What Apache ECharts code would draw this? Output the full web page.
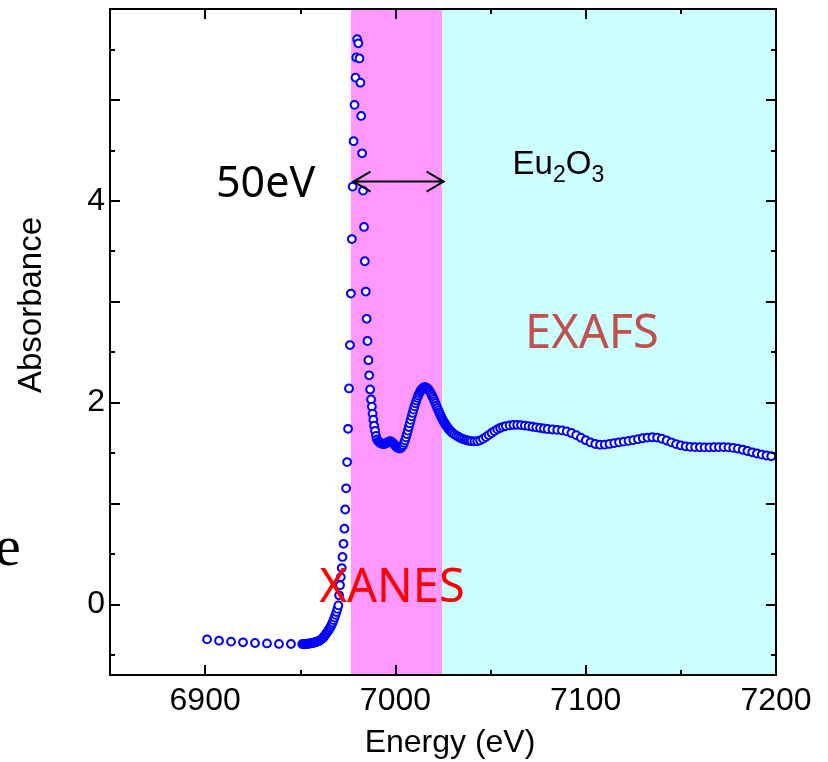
<!DOCTYPE html>
<html>
<head>
<meta charset="utf-8">
<script src="https://cdn.jsdelivr.net/npm/echarts@6/dist/echarts.min.js"></script>
<style>
html, body { margin: 0; padding: 0; background: #fff; }
#chart { width: 828px; height: 762px; }
</style>
</head>
<body>
<div id="chart"></div>
<script>
// photon energy (eV)
const energy = [
  6901.0, 6907.3, 6913.6, 6919.9, 6926.2, 6932.5, 6938.8, 6945.1,
  6951.0, 6951.5, 6952.0, 6952.5, 6953.0, 6953.5, 6954.0, 6954.5, 6955.0, 6955.5,
  6956.0, 6956.5, 6957.0, 6957.5, 6958.0, 6958.5, 6959.0, 6959.5, 6960.0, 6960.5,
  6961.0, 6961.5, 6962.0, 6962.5, 6963.0, 6963.5, 6964.0, 6964.5, 6965.0, 6965.5,
  6966.0, 6966.5, 6967.0, 6967.5, 6968.0, 6968.5, 6969.0, 6969.5,
  6970.0, 6970.4, 6970.9, 6971.3, 6971.8, 6972.2, 6972.7, 6973.2, 6973.6, 6974.1,
  6974.6, 6975.1, 6975.6, 6976.1, 6976.6, 6977.1, 6977.5, 6978.0, 6978.5, 6979.0,
  6979.4, 6979.9, 6980.5, 6981.1, 6981.6, 6982.0, 6982.5, 6983.0, 6983.5, 6983.9,
  6984.4, 6984.9, 6985.3, 6985.8, 6986.2, 6986.7, 6987.2, 6987.6, 6988.0, 6988.4,
  6988.8, 6989.3, 6989.8, 6990.3,
  6991.0, 6991.5, 6992.0, 6992.5, 6993.0, 6993.5, 6994.0, 6994.5, 6995.0, 6995.5,
  6996.0, 6996.5, 6997.0, 6997.5, 6998.0, 6998.5, 6999.0, 6999.5, 7000.0, 7000.5,
  7001.0, 7001.5, 7002.0, 7002.5, 7003.0, 7003.5, 7004.0, 7004.5, 7005.0, 7005.5,
  7006.0, 7006.5, 7007.0, 7007.5, 7008.0, 7008.5, 7009.0, 7009.5, 7010.0, 7010.5,
  7011.0, 7011.5, 7012.0, 7012.5, 7013.0, 7013.5, 7014.0, 7014.5, 7015.0, 7015.5,
  7016.0, 7016.5, 7017.0, 7017.5, 7018.0, 7018.5, 7019.0, 7019.5, 7020.0, 7020.5,
  7021.0, 7021.5, 7022.0, 7022.5, 7023.0, 7023.5, 7024.0, 7024.5, 7025.0, 7025.5,
  7026.0, 7026.5, 7027.0, 7027.5, 7028.0, 7028.5, 7029.0, 7029.5, 7030.0,
  7031, 7032, 7033, 7034, 7035, 7036, 7037, 7038, 7039, 7040,
  7041.5, 7043, 7044.5, 7046, 7047.5, 7049, 7050.5, 7052, 7053.5, 7055, 7056.5, 7058,
  7060, 7062, 7064, 7066, 7068, 7070, 7072, 7074, 7076, 7078, 7080,
  7082.5, 7085, 7087.5, 7090, 7092.5, 7095, 7097.5, 7100, 7102.5, 7105,
  7107.5, 7110, 7112.5, 7115, 7117.5, 7120, 7122.5, 7125, 7127.5, 7130,
  7132.5, 7135, 7137.5, 7140, 7142.5, 7145, 7147.5, 7150, 7152.5, 7155,
  7157.5, 7160, 7162.5, 7165, 7167.5, 7170, 7172.5, 7175, 7177.5, 7180,
  7182.5, 7185, 7187.5, 7190, 7192.5, 7195, 7197.5
];
// absorbance at each energy
const absorbance = [
  -0.347, -0.360, -0.369, -0.376, -0.383, -0.387, -0.392, -0.393,
  -0.394, -0.394, -0.393, -0.393, -0.392, -0.391, -0.390, -0.389, -0.388, -0.386,
  -0.384, -0.382, -0.380, -0.378, -0.375, -0.372, -0.369, -0.365, -0.360, -0.354,
  -0.347, -0.339, -0.330, -0.318, -0.305, -0.292, -0.279, -0.265, -0.251, -0.236,
  -0.219, -0.200, -0.180, -0.156, -0.131, -0.104, -0.076, -0.045,
  -0.010, 0.09, 0.19, 0.27, 0.36, 0.47, 0.60, 0.75, 0.94, 1.15,
  1.41, 1.74, 2.14, 2.57, 3.08, 3.62, 4.14, 4.59, 4.95, 5.22,
  5.42, 5.60, 5.56, 5.41, 5.17, 4.84, 4.47, 4.10, 3.74, 3.40,
  3.10, 2.83, 2.61, 2.42, 2.27, 2.13, 2.03, 1.96, 1.89, 1.83,
  1.77, 1.72, 1.67, 1.635,
  1.615, 1.607, 1.600, 1.595, 1.592, 1.590, 1.590, 1.592, 1.596, 1.601,
  1.607, 1.612, 1.615, 1.614, 1.610, 1.603, 1.594, 1.583, 1.572, 1.562,
  1.554, 1.548, 1.545, 1.546, 1.552, 1.563, 1.579, 1.600, 1.625, 1.655,
  1.688, 1.722, 1.757, 1.793, 1.828, 1.863, 1.897, 1.930, 1.962, 1.992,
  2.020, 2.046, 2.070, 2.091, 2.109, 2.124, 2.136, 2.145, 2.150, 2.152,
  2.150, 2.145, 2.137, 2.126, 2.112, 2.096, 2.078, 2.058, 2.037, 2.015,
  1.993, 1.970, 1.947, 1.925, 1.903, 1.882, 1.862, 1.843, 1.825, 1.808,
  1.792, 1.777, 1.763, 1.750, 1.738, 1.727, 1.717, 1.707, 1.698,
  1.685, 1.672, 1.661, 1.651, 1.642, 1.635, 1.629, 1.624, 1.620, 1.618,
  1.616, 1.617, 1.625, 1.640, 1.658, 1.678, 1.698, 1.717, 1.734, 1.748, 1.759, 1.767,
  1.774, 1.778, 1.779, 1.777, 1.772, 1.766, 1.760, 1.754, 1.748, 1.743, 1.738,
  1.733, 1.729, 1.724, 1.714, 1.698, 1.677, 1.652, 1.627, 1.605, 1.589,
  1.582, 1.583, 1.590, 1.598, 1.606, 1.613, 1.620, 1.628, 1.637, 1.646,
  1.653, 1.656, 1.653, 1.641, 1.624, 1.605, 1.588, 1.575, 1.566, 1.561,
  1.558, 1.557, 1.556, 1.556, 1.557, 1.558, 1.558, 1.556, 1.551, 1.543,
  1.532, 1.520, 1.507, 1.495, 1.484, 1.475, 1.468
];

// shaded regions (eV): XANES then EXAFS
const bandStarts = [6976.6, 7024.6];
const bandEnds = [7024.6, 7200];
const bandColors = ['#FF99FF', '#CCFFFF'];

// "50eV" double arrow
const arrowFrom = 6978;
const arrowTo = 7025.3;
const arrowLevel = 4.19;

const xRange = [6850, 7200];
const yRange = [-0.7, 5.9];
const xMajor = [6900, 7000, 7100, 7200];
const xMinor = [6950, 7050, 7150];
const yMajor = [0, 1, 2, 3, 4, 5];
const yMinor = [-0.5, 0.5, 1.5, 2.5, 3.5, 4.5, 5.5];
const yTickLabels = [0, 2, 4];

const labelFont = 'Liberation Sans, Arial, sans-serif';
const noteFont = 'Noto Sans, sans-serif';

function tickAxis(dim, position, ticks, len, labels) {
  const range = dim === 'x' ? xRange : yRange;
  const ax = {
    type: 'value',
    position: position,
    min: range[0],
    max: range[1],
    z: 10,
    axisLine: { show: true, onZero: false, lineStyle: { color: '#000', width: 2 } },
    axisTick: { show: true, inside: true, length: len, customValues: ticks,
      lineStyle: { color: '#000', width: 2 } },
    axisLabel: { show: false },
    splitLine: { show: false }
  };
  if (labels) {
    ax.axisLabel = {
      show: true,
      customValues: labels,
      formatter: v => String(v),
      color: '#000',
      fontSize: 32,
      fontFamily: labelFont,
      margin: dim === 'x' ? 10 : 5
    };
  }
  return ax;
}

const xAxes = [
  tickAxis('x', 'bottom', xMajor, 10, xMajor),
  tickAxis('x', 'bottom', xMinor, 5),
  tickAxis('x', 'top', xMajor, 10),
  tickAxis('x', 'top', xMinor, 5)
];
xAxes[0].name = 'Energy (eV)';
xAxes[0].nameLocation = 'middle';
xAxes[0].nameGap = 52;
xAxes[0].nameTextStyle = { color: '#000', fontSize: 32, fontFamily: labelFont, padding: [0, 0, 0, 14] };

const yAxes = [
  tickAxis('y', 'left', yMajor, 10, yTickLabels),
  tickAxis('y', 'left', yMinor, 5),
  tickAxis('y', 'right', yMajor, 10),
  tickAxis('y', 'right', yMinor, 5)
];

const points = energy.map((e, i) => [e, absorbance[i]]);
const bands = bandStarts.map((s, i) => [s, bandEnds[i]]);

const chart = echarts.init(document.getElementById('chart'), null, { renderer: 'canvas' });

chart.setOption({
  animation: false,
  backgroundColor: '#fff',
  grid: { left: 110, top: 9, width: 666, height: 666, containLabel: false, outerBoundsMode: 'none' },
  xAxis: xAxes,
  yAxis: yAxes,
  series: [
    {
      // background regions
      type: 'custom',
      z: 1,
      silent: true,
      data: bands,
      renderItem: function (params, api) {
        const p0 = api.coord([api.value(0), yRange[1]]);
        const p1 = api.coord([api.value(1), yRange[0]]);
        return {
          type: 'rect',
          shape: { x: p0[0], y: p0[1], width: p1[0] - p0[0], height: p1[1] - p0[1] },
          style: { fill: bandColors[params.dataIndex] }
        };
      }
    },
    {
      type: 'scatter',
      z: 3,
      data: points,
      symbol: 'circle',
      symbolSize: 7.8,
      itemStyle: { color: '#fff', borderColor: '#0000FF', borderWidth: 2, opacity: 1 }
    },
    {
      // double-headed arrow
      type: 'custom',
      z: 4,
      silent: true,
      data: [[arrowFrom, arrowTo, arrowLevel]],
      renderItem: function (params, api) {
        const a = api.coord([api.value(0), api.value(2)]);
        const b = api.coord([api.value(1), api.value(2)]);
        const w = 17, h = 10;
        const st = { stroke: '#000', lineWidth: 2, fill: null };
        return {
          type: 'group',
          children: [
            { type: 'line', shape: { x1: a[0], y1: a[1], x2: b[0], y2: b[1] }, style: st },
            { type: 'polyline', shape: { points: [[a[0] + w, a[1] - h], [a[0], a[1]], [a[0] + w, a[1] + h]] }, style: st },
            { type: 'polyline', shape: { points: [[b[0] - w, b[1] - h], [b[0], b[1]], [b[0] - w, b[1] + h]] }, style: st }
          ]
        };
      }
    }
  ],
  graphic: [
    { type: 'text', x: 31.6, y: 305, rotation: Math.PI / 2, z: 20,
      style: { text: 'Absorbance', fontSize: 33, fontFamily: labelFont, fill: '#000', align: 'center', verticalAlign: 'middle' } },
    { type: 'text', x: -5, y: 550, z: 20,
      style: { text: 'e', fontSize: 58, fontFamily: 'Liberation Serif, serif', fill: '#000', align: 'left', verticalAlign: 'middle' } },
    { type: 'text', x: 216, y: 184.3, z: 20,
      style: { text: '50eV', fontSize: 43, fontFamily: noteFont, fill: '#000', align: 'left', verticalAlign: 'middle' } },
    { type: 'text', x: 512.5, y: 164.6, z: 20,
      style: { text: 'Eu', fontSize: 33, fontFamily: labelFont, fill: '#000', align: 'left', verticalAlign: 'middle' } },
    { type: 'text', x: 552.9, y: 175.3, z: 20,
      style: { text: '2', fontSize: 23, fontFamily: labelFont, fill: '#000', align: 'left', verticalAlign: 'middle' } },
    { type: 'text', x: 565.7, y: 164.6, z: 20,
      style: { text: 'O', fontSize: 33, fontFamily: labelFont, fill: '#000', align: 'left', verticalAlign: 'middle' } },
    { type: 'text', x: 591.4, y: 175.3, z: 20,
      style: { text: '3', fontSize: 23, fontFamily: labelFont, fill: '#000', align: 'left', verticalAlign: 'middle' } },
    { type: 'text', x: 525, y: 335, z: 20,
      style: { text: 'EXAFS', fontSize: 47, fontFamily: noteFont, fill: '#C0504D', align: 'left', verticalAlign: 'middle' } },
    { type: 'text', x: 319.5, y: 588.5, z: 20,
      style: { text: 'XANES', fontSize: 47, fontFamily: noteFont, fill: '#FF0000', align: 'left', verticalAlign: 'middle' } }
  ]
});
</script>
</body>
</html>
